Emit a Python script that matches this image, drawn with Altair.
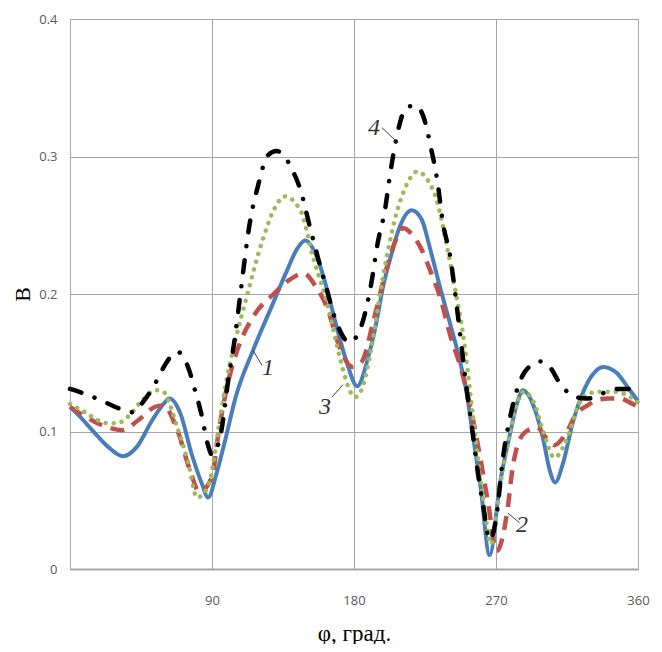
import altair as alt
import pandas as pd

# Curve 1 (solid blue)
phi1 = [0, 7, 14, 24, 33.6, 42.5, 52, 60, 63, 70, 77, 83.6, 87.5, 93, 98, 105, 116,
        128.6, 137.5, 144, 149, 156.5, 163, 169, 175.5, 182, 189, 194.5, 198, 204, 209,
        216.7, 223, 228, 234.5, 241, 247, 251.6, 255, 260, 266, 272.5, 279, 284, 287,
        293, 300, 304, 307.5, 312.5, 319, 325, 331, 338, 346.6, 353.6, 360]
b1 = [0.118, 0.110, 0.101, 0.089, 0.082, 0.089, 0.108, 0.121, 0.124, 0.113, 0.084,
      0.062, 0.052, 0.070, 0.092, 0.125, 0.159, 0.193, 0.217, 0.233, 0.239, 0.227,
      0.203, 0.176, 0.150, 0.133, 0.154, 0.181, 0.203, 0.230, 0.249, 0.261, 0.254,
      0.234, 0.205, 0.178, 0.152, 0.127, 0.100, 0.062, 0.010, 0.062, 0.099, 0.123,
      0.130, 0.121, 0.094, 0.072, 0.063, 0.077, 0.108, 0.128, 0.141, 0.147, 0.1425,
      0.132, 0.122]

# Curve 2 (dashed red)
phi2 = [0, 11, 24, 33, 43, 54, 59, 68, 76, 82, 90, 94, 100, 106, 117, 130, 140, 148,
        156, 163, 171, 179, 185, 192, 201, 206, 211, 217, 223, 229, 234.5, 241, 248,
        255, 260, 265, 270.5, 277, 281, 288, 296, 302, 307, 314, 321, 328, 334, 341,
        348.5, 355, 360]
b2 = [0.118, 0.110, 0.103, 0.101, 0.108, 0.118, 0.119, 0.101, 0.072, 0.056, 0.067,
      0.098, 0.135, 0.159, 0.185, 0.201, 0.211, 0.215, 0.205, 0.190, 0.161, 0.147,
      0.151, 0.179, 0.220, 0.238, 0.248, 0.243, 0.232, 0.215, 0.198, 0.170, 0.145,
      0.111, 0.081, 0.048, 0.013, 0.041, 0.077, 0.099, 0.103, 0.095, 0.090, 0.098,
      0.113, 0.119, 0.123, 0.124, 0.124, 0.121, 0.118]

# Curve 3 (dotted green)
phi3 = [0, 9.5, 18, 24, 30, 37, 46, 54, 59, 68, 75, 80.5, 87.5, 94, 98, 105, 112, 122,
        130, 136, 146, 154, 163, 171, 175, 180.6, 185, 191, 198, 207, 214, 220, 226,
        232.5, 239, 245, 249, 255.4, 262, 267, 272.5, 279, 284, 288, 294, 300, 307,
        314, 323, 330, 337, 344, 352, 360]
b3 = [0.120, 0.114, 0.108, 0.106, 0.106, 0.111, 0.123, 0.130, 0.129, 0.103, 0.077,
      0.052, 0.060, 0.101, 0.130, 0.167, 0.198, 0.239, 0.263, 0.271, 0.261, 0.227,
      0.193, 0.154, 0.137, 0.125, 0.131, 0.161, 0.210, 0.259, 0.281, 0.289, 0.284,
      0.268, 0.234, 0.198, 0.172, 0.111, 0.050, 0.018, 0.060, 0.099, 0.123, 0.129,
      0.121, 0.100, 0.081, 0.092, 0.121, 0.128, 0.129, 0.129, 0.127, 0.121]

# Curve 4 (dash-dot black)
phi4 = [0, 8, 19, 33, 40, 46, 55, 60, 68, 76, 79, 83, 87.5, 90, 96, 100, 104.6, 108,
        114, 119, 125.5, 131, 136, 141, 146, 152, 157, 161.6, 169, 177, 183, 187, 191,
        195, 199.6, 203, 207, 213.5, 219, 224, 229, 233, 236, 241, 246, 251.5, 255,
        258, 262, 266, 270.6, 274, 280, 287, 292, 298, 304, 310.5, 316, 321, 327, 333,
        340, 347, 353, 360]
b4 = [0.131, 0.128, 0.123, 0.116, 0.114, 0.121, 0.137, 0.148, 0.158, 0.143, 0.131,
      0.114, 0.090, 0.083, 0.101, 0.135, 0.169, 0.200, 0.252, 0.278, 0.301, 0.304,
      0.300, 0.290, 0.276, 0.249, 0.227, 0.208, 0.179, 0.165, 0.172, 0.186, 0.208,
      0.237, 0.261, 0.288, 0.314, 0.336, 0.337, 0.329, 0.305, 0.281, 0.254, 0.227,
      0.183, 0.130, 0.101, 0.074, 0.045, 0.021, 0.041, 0.077, 0.116, 0.141, 0.148,
      0.151, 0.147, 0.135, 0.128, 0.125, 0.124, 0.125, 0.129, 0.131, 0.131, 0.130]

# Curve labels and their leader lines
label_text = ["1", "2", "3", "4"]
label_phi = [125.5, 286.5, 161.6, 192.6]
label_b = [0.146, 0.032, 0.118, 0.321]
lead_phi = [116, 277.5, 166, 197.7]
lead_b = [0.159, 0.0407, 0.125, 0.321]
lead_phi2 = [121.7, 285, 173, 206]
lead_b2 = [0.148, 0.0335, 0.134, 0.312]

x_ticks = [90, 180, 270, 360]
y_ticks = [0, 0.1, 0.2, 0.3, 0.4]

xscale = alt.Scale(domain=[0, 360], nice=False, zero=False)
yscale = alt.Scale(domain=[0, 0.4], nice=False, zero=False)

xaxis = alt.Axis(values=x_ticks, grid=True, gridColor="#a6a6a6", gridWidth=1,
                 ticks=False, tickSize=0, domain=True, domainColor="#a6a6a6",
                 domainWidth=2, labelFont="Open Sans", labelFontSize=13,
                 labelColor="#595959", labelPadding=25, labelFlush=False,
                 title="φ, град.", titleFont="Liberation Serif", titleFontSize=23,
                 titleFontWeight="normal", titleColor="#000000", titleX=284,
                 titleY=64, titleBaseline="middle", titleAlign="center")
yaxis = alt.Axis(values=y_ticks, grid=True, gridColor="#a6a6a6", gridWidth=1,
                 ticks=False, tickSize=0, domain=True, domainColor="#a6a6a6",
                 domainWidth=1, format="~g", labelFont="Open Sans", labelFontSize=13,
                 labelColor="#595959", labelPadding=13, labelFlush=False,
                 title="В", titleFont="Liberation Serif", titleFontSize=22,
                 titleFontWeight="normal", titleColor="#000000", titleX=-48,
                 titleY=275, titleBaseline="middle", titleAlign="center", titleAngle=270)


def curve(xs, ys, color, width, dash=None, cap="butt"):
    df = pd.DataFrame({"phi": xs, "B": ys})
    kw = dict(interpolate="monotone", color=color, strokeWidth=width, strokeCap=cap)
    if dash is not None:
        kw["strokeDash"] = dash
    return alt.Chart(df).mark_line(**kw).encode(
        x=alt.X("phi:Q", scale=xscale, axis=xaxis),
        y=alt.Y("B:Q", scale=yscale, axis=yaxis),
    )


c1 = curve(phi1, b1, "#4A7EBB", 4)
c2 = curve(phi2, b2, "#C0504D", 4.5, [14, 9])
c3 = curve(phi3, b3, "#9BBB59", 4.5, [0.1, 8], "round")
c4 = curve(phi4, b4, "#000000", 4.5, [12, 14, 0.1, 14], "round")

lbl_df = pd.DataFrame({"t": label_text, "phi": label_phi, "B": label_b})
labels = alt.Chart(lbl_df).mark_text(font="Liberation Serif", fontStyle="italic",
                                     fontSize=24, color="#333333").encode(
    x=alt.X("phi:Q", scale=xscale, axis=xaxis),
    y=alt.Y("B:Q", scale=yscale, axis=yaxis),
    text="t:N",
)

lead_df = pd.DataFrame({"phi": lead_phi, "B": lead_b, "phi2": lead_phi2, "B2": lead_b2})
leaders = alt.Chart(lead_df).mark_rule(color="#404040", strokeWidth=1).encode(
    x=alt.X("phi:Q", scale=xscale, axis=xaxis),
    y=alt.Y("B:Q", scale=yscale, axis=yaxis),
    x2="phi2:Q",
    y2="B2:Q",
)

chart = alt.layer(c1, c2, c3, c4, leaders, labels).properties(
    width=568, height=550,
    autosize=alt.AutoSizeParams(type="none"),
    padding={"left": 62, "top": 11, "right": 16, "bottom": 75},
    background="#ffffff",
).configure_view(stroke="#a6a6a6", strokeWidth=1)

chart.save("out.html", embed_options={"renderer": "svg", "actions": False})
